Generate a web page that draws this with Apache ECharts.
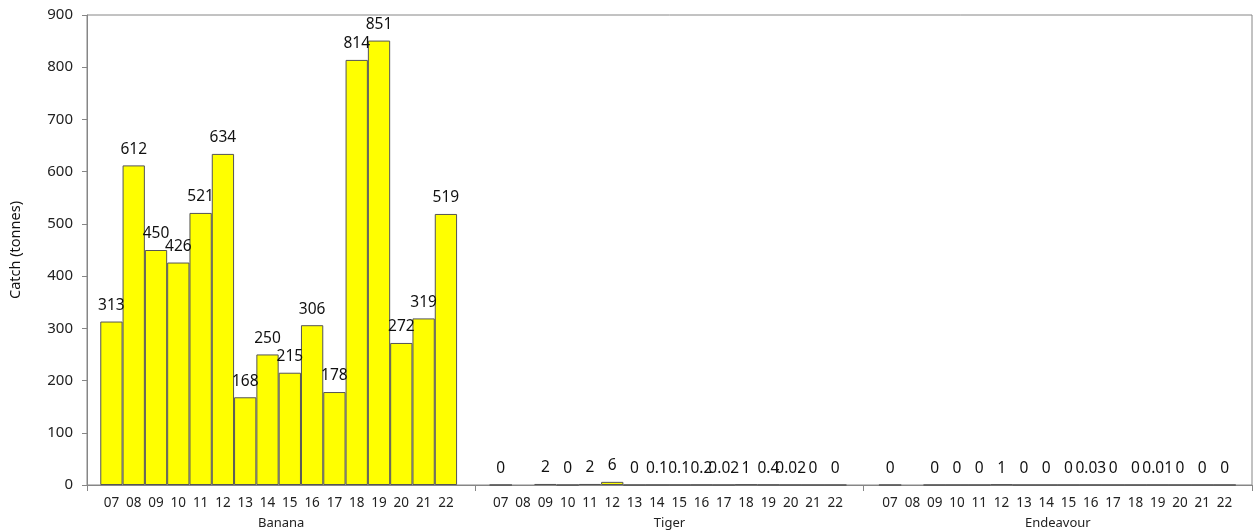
<!DOCTYPE html>
<html>
<head>
<meta charset="utf-8">
<script src="https://cdn.jsdelivr.net/npm/echarts@6/dist/echarts.min.js"></script>
<style>
html,body{margin:0;padding:0;background:#fff;}
#chart{width:1256px;height:531px;}
</style>
</head>
<body>
<div id="chart"></div>
<script>
const years = ['07','08','09','10','11','12','13','14','15','16','17','18','19','20','21','22'];
const groups = ['Banana','Tiger','Endeavour'];
const banana = [313,612,450,426,521,634,168,250,215,306,178,814,851,272,319,519];
const tiger = [0,null,2,0,2,6,0,0.1,0.1,0.2,0.02,1,0.4,0.02,0,0];
const endeavour = [0,null,0,0,0,1,0,0,0,0.03,0,0,0.01,0,0,0];
const yTicks = [0,100,200,300,400,500,600,700,800,900];

const seriesData = [banana, tiger, endeavour];
const FONT = '"Noto Sans", "Open Sans", sans-serif';
const plotLeft = 84, plotTop = 15, plotW = 1168, plotH = 470;
const groupW = plotW / 3;
const barW = 22.3;
const span = barW * years.length;
const pad = (groupW - span) / 2;

const grids = [{left: plotLeft, top: plotTop, width: plotW, height: plotH, show: true, borderColor: '#868686', borderWidth: 1}];
const xAxes = [{
  gridIndex: 0, type: 'category', data: groups, boundaryGap: true,
  axisLine: {lineStyle: {color: '#868686', width: 1}},
  axisTick: {show: true, length: 6, lineStyle: {color: '#868686'}},
  axisLabel: {margin: 32, fontFamily: FONT, fontSize: 13, color: '#222'}
}];
const yAxes = [{
  gridIndex: 0, type: 'value', min: yTicks[0], max: yTicks[yTicks.length-1], interval: 100,
  name: 'Catch (tonnes)', nameLocation: 'middle', nameGap: 64, nameRotate: 90,
  nameTextStyle: {fontFamily: FONT, fontSize: 14.5, color: '#111'},
  axisLine: {show: true, lineStyle: {color: '#868686'}},
  axisTick: {show: true, length: 5, lineStyle: {color: '#868686'}},
  axisLabel: {margin: 14, fontFamily: FONT, fontSize: 15, color: '#222'},
  splitLine: {show: false}
}];
const series = [];
for (let i = 0; i < 3; i++) {
  grids.push({left: plotLeft + i * groupW + pad, top: plotTop, width: span, height: plotH});
  xAxes.push({
    gridIndex: i + 1, type: 'category', data: years,
    axisLine: {show: false}, axisTick: {show: false},
    axisLabel: {margin: 11, interval: 0, fontFamily: FONT, fontSize: 13.5, color: '#222'}
  });
  yAxes.push({gridIndex: i + 1, type: 'value', min: 0, max: 900, interval: 100, show: false, splitLine: {show: false}});
  series.push({
    type: 'bar', xAxisIndex: i + 1, yAxisIndex: i + 1,
    data: seriesData[i], barCategoryGap: '0%',
    itemStyle: {color: '#FFFF00', borderColor: '#555555', borderWidth: 1},
    label: {show: true, position: 'top', distance: 8, fontFamily: FONT, fontSize: 15.5, color: '#111'},
    silent: true
  });
}

const chart = echarts.init(document.getElementById('chart'));
chart.setOption({
  animation: false,
  backgroundColor: '#fff',
  grid: grids, xAxis: xAxes, yAxis: yAxes, series: series
});
</script>
</body>
</html>
